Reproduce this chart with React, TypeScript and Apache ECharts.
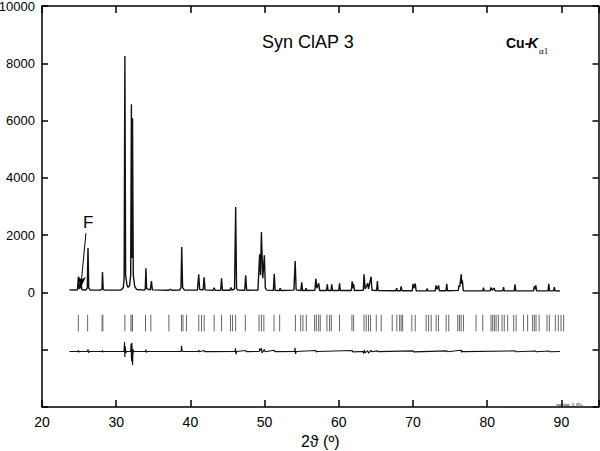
import React, { useEffect, useRef } from "react";
import * as echarts from "echarts";

// Observed/calculated profile: [2theta, intensity]
const OBS: [number, number][] = [
  [23.7, 90], [24.5, 85],
  [24.78, 90], [24.9, 530], [25.02, 120], [25.25, 350], [25.38, 90],
  [25.9, 85], [26.1, 150], [26.2, 1550], [26.3, 150], [26.5, 85],
  [27.9, 80], [28.08, 120], [28.15, 710], [28.25, 110], [28.4, 80],
  [30.6, 80], [30.95, 160], [31.07, 500], [31.17, 8250], [31.27, 600], [31.45, 260], [31.6, 175],
  [31.8, 240], [31.95, 600], [32.05, 6570], [32.12, 1200], [32.2, 6085], [32.3, 600], [32.5, 200], [32.8, 100],
  [33.8, 80], [33.92, 130], [34.0, 840], [34.1, 130], [34.6, 90], [34.75, 400], [34.87, 90],
  [37.1, 75], [37.3, 110], [37.5, 75],
  [38.55, 80], [38.73, 170], [38.83, 1585], [38.95, 170], [39.2, 80],
  [40.95, 80], [41.12, 630], [41.25, 100], [41.72, 90], [41.85, 525], [41.98, 90],
  [43.05, 70], [43.2, 160], [43.35, 70],
  [44.08, 75], [44.2, 490], [44.32, 75],
  [45.35, 75], [45.45, 175], [45.6, 80], [45.95, 120], [46.1, 2985], [46.22, 140], [46.4, 80],
  [47.32, 75], [47.45, 595], [47.58, 75],
  [49.1, 80], [49.33, 1330], [49.45, 600], [49.57, 2110], [49.75, 500], [49.97, 1295], [50.1, 150], [50.3, 80],
  [51.18, 70], [51.3, 650], [51.42, 70],
  [52.0, 65], [52.1, 150], [52.2, 65],
  [53.95, 80], [54.12, 1095], [54.25, 90],
  [54.9, 65], [55.0, 350], [55.12, 65], [55.5, 65], [55.6, 150], [55.7, 65],
  [56.78, 70], [56.9, 480], [57.05, 150], [57.3, 320], [57.42, 65],
  [58.35, 65], [58.45, 280], [58.55, 65], [58.95, 65], [59.05, 280], [59.15, 65],
  [60.0, 65], [60.1, 315], [60.2, 65],
  [61.7, 65], [61.8, 385], [61.9, 150], [62.0, 300], [62.1, 65],
  [63.3, 70], [63.4, 630], [63.55, 120], [63.9, 315], [64.0, 120], [64.35, 550], [64.47, 70],
  [65.1, 65], [65.2, 395], [65.3, 65],
  [67.7, 60], [67.8, 150], [67.9, 60], [68.3, 60], [68.4, 210], [68.5, 60],
  [69.9, 60], [70.0, 300], [70.12, 150], [70.3, 310], [70.42, 60],
  [71.8, 55], [71.9, 140], [72.0, 55],
  [73.0, 60], [73.1, 245], [73.25, 110], [73.45, 245], [73.55, 60],
  [74.45, 60], [74.55, 300], [74.65, 60],
  [76.1, 70], [76.2, 245], [76.3, 200], [76.5, 630], [76.58, 300], [76.65, 420], [76.78, 60],
  [79.4, 55], [79.5, 165], [79.6, 55],
  [80.4, 55], [80.5, 175], [80.65, 80], [80.95, 150], [81.05, 55],
  [82.1, 55], [82.2, 185], [82.3, 55],
  [83.65, 55], [83.75, 280], [83.85, 55],
  [86.25, 55], [86.35, 210], [86.45, 120], [86.55, 250], [86.65, 55],
  [88.2, 55], [88.3, 300], [88.4, 55],
  [88.95, 55], [89.05, 185], [89.15, 55],
  [89.8, 50],
];

// Bragg reflection positions (2theta)
const BRAGG: number[] = [
  24.9, 26.15, 28.1, 28.2, 31.17, 31.98, 32.15, 32.2, 33.95, 34.67, 37.1, 38.8, 39.0, 39.47,
  41.13, 41.5, 41.85, 43.2, 44.2, 45.4, 45.67, 46.1, 47.4, 49.25, 49.57, 49.9, 51.27, 52.03,
  54.15, 54.86, 55.17, 55.62, 56.74, 56.97, 57.28, 57.5, 58.4, 58.76, 58.99, 60.1, 61.77, 62.0,
  63.4, 63.7, 64.0, 64.28, 65.05, 65.72, 67.2, 67.82, 68.2, 68.4, 68.6, 69.84, 70.3, 71.77, 72.1,
  72.45, 73.12, 73.43, 74.47, 74.82, 76.03, 76.26, 76.49, 76.8, 78.5, 79.4, 80.52, 80.74, 80.97,
  81.2, 81.5, 82.0, 82.3, 82.76, 83.57, 83.9, 84.9, 85.45, 86.12, 86.35, 86.58, 87.0, 88.06,
  88.37, 89.18, 89.58, 89.95, 90.3,
];

// Difference curve (obs - calc), offset
const DIFF: [number, number][] = [
  [23.7, -2060], [24.85, -2060], [24.9, -2020], [24.97, -2090], [25.05, -2060],
  [26.12, -2060], [26.2, -1990], [26.28, -2100], [26.4, -2060],
  [28.1, -2060], [28.15, -2020], [28.22, -2085], [28.3, -2060],
  [31.05, -2060], [31.12, -1730], [31.17, -2250], [31.22, -1880], [31.3, -2120], [31.4, -2060],
  [31.95, -2060], [32.0, -1790], [32.07, -2400], [32.12, -1760], [32.2, -2530], [32.28, -1990], [32.4, -2070], [32.5, -2060],
  [33.95, -2060], [34.0, -2000], [34.08, -2090], [34.2, -2060],
  [38.75, -2060], [38.8, -1860], [38.9, -2050], [39.0, -2060],
  [41.08, -2060], [41.12, -2010], [41.2, -2070], [41.85, -2030], [41.95, -2065],
  [46.02, -2060], [46.07, -1950], [46.14, -2160], [46.25, -2060],
  [47.45, -2030], [47.55, -2065],
  [49.28, -2060], [49.33, -1960], [49.45, -2030], [49.57, -1950], [49.65, -2110], [49.97, -1990], [50.05, -2070],
  [51.3, -2020], [51.38, -2065],
  [54.05, -2060], [54.1, -1930], [54.17, -2150], [54.25, -2060],
  [56.9, -2030], [57.0, -2080], [57.1, -2060],
  [61.8, -2030], [61.9, -2075],
  [63.25, -2060], [63.35, -2130], [63.45, -2010], [63.55, -2110], [63.9, -2030], [64.0, -2120], [64.35, -2020], [64.45, -2070],
  [65.2, -2040], [65.3, -2065],
  [70.0, -2040], [70.1, -2075], [74.55, -2040], [74.65, -2070],
  [76.45, -2020], [76.55, -2090], [76.65, -2040], [76.75, -2065],
  [83.75, -2040], [83.85, -2070], [86.5, -2045], [86.6, -2070], [88.3, -2045], [88.4, -2070],
  [89.8, -2060],
];

const Y_TICKS_HIDDEN_BELOW = 0;
const TICK_TOP = -780;
const TICK_BOTTOM = -1360;
const FONT = "'Liberation Sans', Arial, sans-serif";

export default function App() {
  const ref = useRef<HTMLDivElement>(null);

  useEffect(() => {
    if (!ref.current) return;
    const chart = echarts.init(ref.current, undefined, { renderer: "svg" });
    const axisLine = { show: true, onZero: false, lineStyle: { color: "#000", width: 1.5 } };
    const xCommon = {
      type: "value" as const,
      min: 20,
      max: 95,
      interval: 10,
      splitLine: { show: false },
      axisLine,
      axisTick: { show: true, inside: true, length: 7, lineStyle: { color: "#000", width: 1.5 } },
    };
    const yCommon = {
      type: "value" as const,
      min: -4000,
      max: 10000,
      interval: 2000,
      splitLine: { show: false },
      axisLine,
      axisTick: { show: true, inside: true, length: 6, lineStyle: { color: "#000", width: 1.5 } },
    };
    chart.setOption({
      animation: false,
      backgroundColor: "#fff",
      grid: { left: 42, right: 1.5, top: 6, bottom: 44, containLabel: false, outerBoundsMode: "none" },
      xAxis: [
        {
          ...xCommon,
          position: "bottom",
          name: "2ϑ (º)",
          nameLocation: "middle",
          nameGap: 23,
          nameTextStyle: { color: "#000", fontSize: 16, fontFamily: FONT },
          axisLabel: {
            color: "#000",
            fontSize: 14,
            fontFamily: FONT,
            margin: 8,
            formatter: (v: number) => (v > 90 ? "" : String(v)),
          },
        },
        { ...xCommon, position: "top", axisLabel: { show: false } },
      ],
      yAxis: [
        {
          ...yCommon,
          position: "left",
          axisLabel: {
            color: "#000",
            fontSize: 13,
            fontFamily: FONT,
            margin: 7,
            formatter: (v: number) => (v < Y_TICKS_HIDDEN_BELOW ? "" : String(v)),
          },
        },
        { ...yCommon, position: "right", axisLabel: { show: false } },
      ],
      series: [
        {
          name: "Yobs",
          type: "line",
          xAxisIndex: 0,
          yAxisIndex: 0,
          data: OBS,
          symbol: "none",
          lineStyle: { color: "#111", width: 1.4 },
          silent: true,
          markLine: {
            silent: true,
            symbol: ["none", "arrow"],
            symbolSize: [6, 12],
            label: { show: false },
            lineStyle: { color: "#000", width: 1, type: "solid" },
            data: [[{ coord: [25.92, 2065] }, { coord: [25.21, 140] }]],
          },
        },
        {
          name: "Bragg",
          type: "custom",
          xAxisIndex: 0,
          yAxisIndex: 0,
          data: BRAGG.map((v) => [v, TICK_TOP]),
          encode: { x: 0, y: 1 },
          silent: true,
          renderItem: (_p: any, api: any) => {
            const x = api.value(0);
            const a = api.coord([x, TICK_TOP]);
            const b = api.coord([x, TICK_BOTTOM]);
            return {
              type: "line",
              shape: { x1: a[0], y1: a[1], x2: b[0], y2: b[1] },
              style: { stroke: "#666", lineWidth: 1 },
            };
          },
        },
        {
          name: "Diff",
          type: "line",
          xAxisIndex: 0,
          yAxisIndex: 0,
          data: DIFF,
          symbol: "none",
          lineStyle: { color: "#111", width: 1.1 },
          silent: true,
        },
      ],
      graphic: [
        {
          type: "text",
          left: 262,
          top: 33,
          style: { text: "Syn ClAP 3", fontSize: 18, fontFamily: FONT, fill: "#000" },
        },
        {
          type: "text",
          left: 506,
          top: 36,
          style: { text: "Cu-", fontSize: 14, fontWeight: "bold", fontFamily: FONT, fill: "#000" },
        },
        {
          type: "text",
          left: 528,
          top: 36,
          style: { text: "K", fontSize: 14, fontWeight: "bold", fontStyle: "italic", fontFamily: FONT, fill: "#000" },
        },
        {
          type: "text",
          left: 539,
          top: 46,
          style: { text: "α1", fontSize: 9, fontFamily: "'Liberation Serif', serif", fill: "#000" },
        },
        {
          type: "text",
          left: 83,
          top: 214,
          style: { text: "F", fontSize: 17, fontFamily: FONT, fill: "#000" },
        },
        {
          type: "text",
          left: 556,
          top: 402,
          style: { text: "synclap_3_89+", fontSize: 4, fontFamily: FONT, fill: "#000" },
        },
      ],
    });
    return () => chart.dispose();
  }, []);

  return (
    <div
      ref={ref}
      style={{ position: "absolute", left: 0, top: 0, width: 600, height: 451, background: "#fff" }}
    />
  );
}
